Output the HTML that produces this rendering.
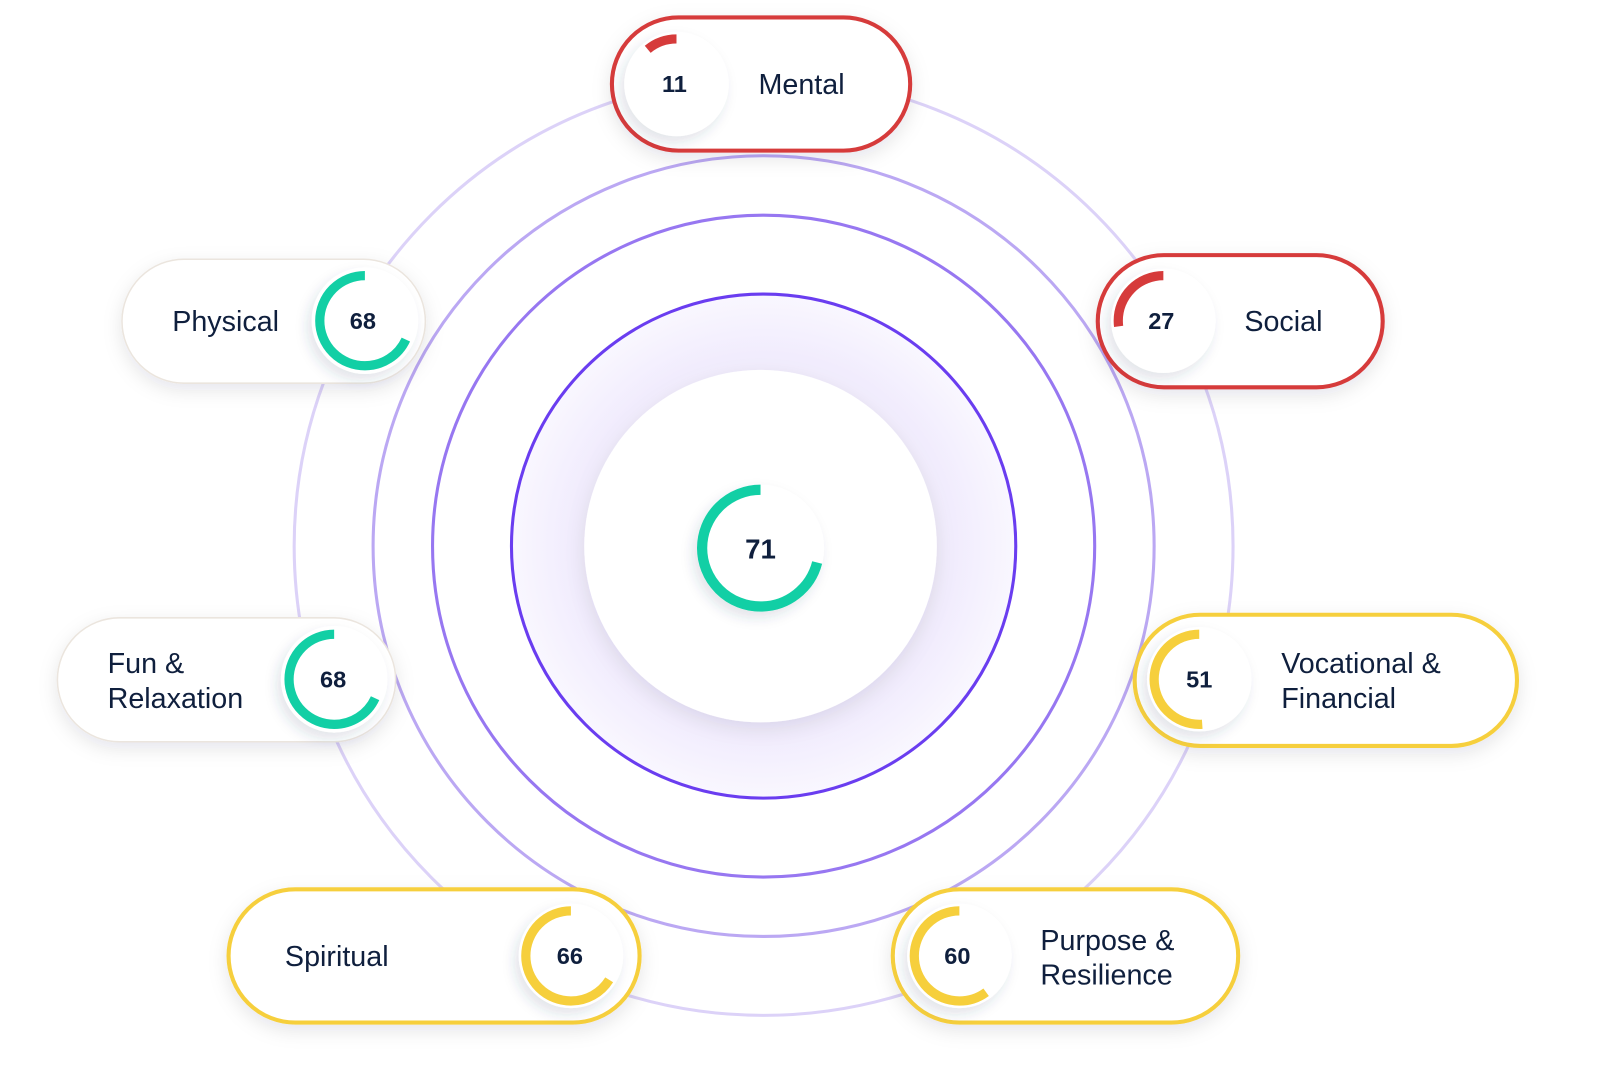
<!DOCTYPE html>
<html><head><meta charset="utf-8"><style>
html,body{margin:0;padding:0;background:#fff;}
svg{display:block;}
text{font-family:"Liberation Sans",sans-serif;fill:#0f1f3d;}
.lbl{font-size:28px;}
.num{font-size:23px;font-weight:600;text-anchor:middle;}
</style></head><body>
<svg width="1600" height="1084" viewBox="0 0 1561 1058" preserveAspectRatio="none" xmlns="http://www.w3.org/2000/svg">
<defs>
<radialGradient id="glow" cx="745" cy="533" r="250" gradientUnits="userSpaceOnUse">
<stop offset="0.6" stop-color="#f3effd"/>
<stop offset="0.75" stop-color="#f1ecfd"/>
<stop offset="1" stop-color="#faf8ff"/>
</radialGradient>
<filter id="sh" x="-20%" y="-30%" width="140%" height="170%"><feDropShadow dx="0" dy="6" stdDeviation="9" flood-color="#1b2340" flood-opacity="0.10"/></filter>
<filter id="csh" x="-40%" y="-40%" width="180%" height="180%"><feDropShadow dx="-4" dy="6" stdDeviation="6" flood-color="#2a3a66" flood-opacity="0.14"/></filter>
</defs>
<circle cx="745" cy="533" r="246" fill="url(#glow)"/>
<circle cx="742" cy="533" r="172" fill="#fff" filter="url(#sh)"/>
<circle cx="745" cy="533" r="458" fill="none" stroke="#dcd2f8" stroke-width="3"/>
<circle cx="745" cy="533" r="381" fill="none" stroke="#bba8f3" stroke-width="3"/>
<circle cx="745" cy="533" r="323" fill="none" stroke="#9777f1" stroke-width="3"/>
<circle cx="745" cy="533" r="246" fill="none" stroke="#6a3df0" stroke-width="3"/>
<circle cx="742" cy="535" r="62" fill="#fff" filter="url(#csh)"/>
<circle r="57" fill="none" stroke="#12cfa5" stroke-width="10" stroke-dasharray="254.3 999" transform="translate(742 535) scale(-1 1) rotate(-90)"/>
<text x="742" y="545" class="num" style="font-size:27px">71</text>

<rect x="597" y="17" width="291" height="130" rx="65" fill="#fff" stroke="#d63b3b" stroke-width="4" filter="url(#sh)"/>
<circle cx="660" cy="82" r="51" fill="#fff" filter="url(#csh)"/>
<circle r="44" fill="none" stroke="#d63b3b" stroke-width="9" stroke-dasharray="30.4 999" transform="translate(660 82) scale(-1 1) rotate(-90)"/>
<text x="658" y="90" class="num">11</text>
<text x="740" y="92" class="lbl">Mental</text>

<rect x="1071" y="249" width="278" height="129" rx="64.5" fill="#fff" stroke="#d63b3b" stroke-width="4" filter="url(#sh)"/>
<circle cx="1135" cy="313" r="51" fill="#fff" filter="url(#csh)"/>
<circle r="44" fill="none" stroke="#d63b3b" stroke-width="9" stroke-dasharray="74.6 999" transform="translate(1135 313) scale(-1 1) rotate(-90)"/>
<text x="1133" y="321" class="num">27</text>
<text x="1214" y="323" class="lbl">Social</text>

<rect x="119" y="253" width="296" height="121" rx="60.5" fill="#fff" stroke="#ebe5de" stroke-width="1.5" filter="url(#sh)"/>
<circle cx="356" cy="313" r="52" fill="#fff" filter="url(#csh)"/>
<circle r="44" fill="none" stroke="#12cfa5" stroke-width="9" stroke-dasharray="188 999" transform="translate(356 313) scale(-1 1) rotate(-90)"/>
<text x="354" y="321" class="num">68</text>
<text x="168" y="323" class="lbl">Physical</text>

<rect x="56" y="603" width="330" height="121" rx="60.5" fill="#fff" stroke="#ebe5de" stroke-width="1.5" filter="url(#sh)"/>
<circle cx="326" cy="663" r="52" fill="#fff" filter="url(#csh)"/>
<circle r="44" fill="none" stroke="#12cfa5" stroke-width="9" stroke-dasharray="188 999" transform="translate(326 663) scale(-1 1) rotate(-90)"/>
<text x="325" y="671" class="num">68</text>
<text x="105" y="657" class="lbl">Fun &amp;</text>
<text x="105" y="691" class="lbl">Relaxation</text>

<rect x="1107" y="600" width="373" height="128" rx="64" fill="#fff" stroke="#f6cf3c" stroke-width="4" filter="url(#sh)"/>
<circle cx="1170" cy="663" r="51" fill="#fff" filter="url(#csh)"/>
<circle r="44" fill="none" stroke="#f6cf3c" stroke-width="9" stroke-dasharray="141 999" transform="translate(1170 663) scale(-1 1) rotate(-90)"/>
<text x="1170" y="671" class="num">51</text>
<text x="1250" y="657" class="lbl">Vocational &amp;</text>
<text x="1250" y="691" class="lbl">Financial</text>

<rect x="223" y="868" width="401" height="130" rx="65" fill="#fff" stroke="#f6cf3c" stroke-width="4" filter="url(#sh)"/>
<circle cx="557" cy="933" r="51" fill="#fff" filter="url(#csh)"/>
<circle r="44" fill="none" stroke="#f6cf3c" stroke-width="9" stroke-dasharray="182.5 999" transform="translate(557 933) scale(-1 1) rotate(-90)"/>
<text x="556" y="941" class="num">66</text>
<text x="278" y="943" class="lbl">Spiritual</text>

<rect x="871" y="868" width="337" height="130" rx="65" fill="#fff" stroke="#f6cf3c" stroke-width="4" filter="url(#sh)"/>
<circle cx="936" cy="933" r="51" fill="#fff" filter="url(#csh)"/>
<circle r="44" fill="none" stroke="#f6cf3c" stroke-width="9" stroke-dasharray="165.9 999" transform="translate(936 933) scale(-1 1) rotate(-90)"/>
<text x="934" y="941" class="num">60</text>
<text x="1015" y="927" class="lbl">Purpose &amp;</text>
<text x="1015" y="961" class="lbl">Resilience</text>
</svg>
</body></html>
